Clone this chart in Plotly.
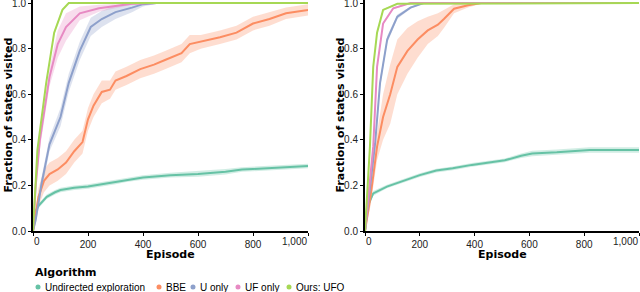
import plotly.graph_objects as go

# ---------------- data ----------------
names = ["Undirected exploration", "BBE", "U only", "UF only", "Ours: UFO"]
colors = ["#66c2a5", "#fc8d62", "#8da0cb", "#e78ac3", "#a6d854"]
bands = ["rgba(102,194,165,0.3)", "rgba(252,141,98,0.3)", "rgba(141,160,203,0.3)",
         "rgba(231,138,195,0.3)", "rgba(166,216,84,0.3)"]

# Left panel
L_und_ep = [0, 5, 20, 50, 80, 100, 150, 200, 250, 300, 340, 400, 500, 600, 700, 760, 800, 900, 1000]
L_und_v = [0, 0.08, 0.11, 0.15, 0.17, 0.18, 0.19, 0.195, 0.205, 0.215, 0.225, 0.235, 0.245, 0.25, 0.26, 0.27, 0.272, 0.277, 0.285]
L_und_e = [0, 0.01, 0.01, 0.01, 0.01, 0.01, 0.01, 0.01, 0.01, 0.01, 0.01, 0.01, 0.01, 0.012, 0.012, 0.01, 0.01, 0.01, 0.01]

L_bbe_ep = [0, 10, 20, 40, 60, 90, 120, 150, 180, 200, 220, 250, 280, 300, 340, 390, 440, 480, 540, 570, 610, 680, 740, 800, 860, 920, 1000]
L_bbe_v = [0, 0.08, 0.15, 0.22, 0.25, 0.27, 0.30, 0.35, 0.39, 0.49, 0.55, 0.61, 0.62, 0.66, 0.68, 0.71, 0.73, 0.75, 0.78, 0.82, 0.83, 0.85, 0.87, 0.91, 0.93, 0.955, 0.97]
L_bbe_e = [0, 0.02, 0.04, 0.05, 0.05, 0.05, 0.05, 0.05, 0.05, 0.05, 0.05, 0.05, 0.04, 0.04, 0.04, 0.04, 0.04, 0.04, 0.04, 0.04, 0.03, 0.03, 0.03, 0.03, 0.03, 0.025, 0.025]

L_u_ep = [0, 10, 30, 60, 100, 130, 170, 210, 250, 300, 360, 400, 450, 1000]
L_u_v = [0, 0.05, 0.2, 0.38, 0.5, 0.65, 0.79, 0.895, 0.93, 0.96, 0.98, 0.995, 1.0, 1.0]
L_u_e = [0, 0.02, 0.03, 0.03, 0.04, 0.04, 0.04, 0.04, 0.035, 0.03, 0.02, 0.01, 0.003, 0.003]

L_uf_ep = [0, 10, 25, 60, 90, 120, 170, 240, 360, 450, 1000]
L_uf_v = [0, 0.2, 0.4, 0.675, 0.82, 0.895, 0.955, 0.977, 0.997, 1.0, 1.0]
L_uf_e = [0, 0.03, 0.04, 0.04, 0.06, 0.06, 0.03, 0.015, 0.005, 0.003, 0.003]

L_ufo_ep = [0, 16, 48, 77, 107, 130, 1000]
L_ufo_v = [0, 0.355, 0.65, 0.87, 0.97, 1.0, 1.0]
L_ufo_e = [0, 0.01, 0.01, 0.01, 0.005, 0.002, 0.002]

# Right panel
R_und_ep = [0, 3, 7, 30, 80, 140, 200, 260, 320, 390, 450, 510, 570, 610, 700, 820, 1000]
R_und_v = [0, 0.06, 0.1, 0.165, 0.195, 0.22, 0.245, 0.265, 0.275, 0.29, 0.30, 0.31, 0.33, 0.34, 0.345, 0.355, 0.355]
R_und_e = [0, 0.01, 0.01, 0.01, 0.008, 0.008, 0.008, 0.008, 0.008, 0.008, 0.008, 0.008, 0.01, 0.012, 0.012, 0.012, 0.012]

R_bbe_ep = [0, 20, 44, 66, 92, 118, 155, 192, 229, 266, 288, 325, 376, 424, 1000]
R_bbe_v = [0, 0.15, 0.37, 0.5, 0.6, 0.72, 0.79, 0.84, 0.88, 0.905, 0.93, 0.975, 0.99, 1.0, 1.0]
R_bbe_e = [0, 0.04, 0.06, 0.1, 0.13, 0.12, 0.1, 0.08, 0.06, 0.05, 0.04, 0.02, 0.01, 0.003, 0.003]

R_u_ep = [0, 15, 37, 55, 81, 118, 166, 214, 1000]
R_u_v = [0, 0.15, 0.385, 0.65, 0.84, 0.94, 0.98, 1.0, 1.0]
R_u_e = [0, 0.02, 0.02, 0.02, 0.015, 0.01, 0.005, 0.002, 0.002]

R_uf_ep = [0, 12, 30, 44, 66, 103, 166, 1000]
R_uf_v = [0, 0.15, 0.37, 0.72, 0.91, 0.977, 1.0, 1.0]
R_uf_e = [0, 0.01, 0.01, 0.01, 0.008, 0.005, 0.002, 0.002]

R_ufo_ep = [0, 8, 18, 30, 44, 66, 118, 1000]
R_ufo_v = [0, 0.15, 0.37, 0.72, 0.87, 0.97, 0.997, 1.0]
R_ufo_e = [0, 0.005, 0.005, 0.005, 0.005, 0.004, 0.002, 0.002]

x_ticks = [0, 200, 400, 600, 800, 1000]
y_ticks = [0.0, 0.2, 0.4, 0.6, 0.8, 1.0]
x_title = "Episode"
y_title = "Fraction of states visited"
legend_title = "Algorithm"

left = [(L_und_ep, L_und_v, L_und_e), (L_bbe_ep, L_bbe_v, L_bbe_e), (L_u_ep, L_u_v, L_u_e),
        (L_uf_ep, L_uf_v, L_uf_e), (L_ufo_ep, L_ufo_v, L_ufo_e)]
right = [(R_und_ep, R_und_v, R_und_e), (R_bbe_ep, R_bbe_v, R_bbe_e), (R_u_ep, R_u_v, R_u_e),
         (R_uf_ep, R_uf_v, R_uf_e), (R_ufo_ep, R_ufo_v, R_ufo_e)]

fig = go.Figure()
for panel, (xa, ya) in [(left, ("x", "y")), (right, ("x2", "y2"))]:
    for i, (ep, v, e) in enumerate(panel):
        up = [min(a + b, 1.0) for a, b in zip(v, e)]
        lo = [max(a - b, 0.0) for a, b in zip(v, e)]
        fig.add_trace(go.Scatter(x=ep + ep[::-1], y=up + lo[::-1], fill="toself",
                                 fillcolor=bands[i], line=dict(width=0), mode="lines",
                                 hoverinfo="skip", showlegend=False, xaxis=xa, yaxis=ya))
    for i, (ep, v, e) in enumerate(panel):
        fig.add_trace(go.Scatter(x=ep, y=v, mode="lines", line=dict(color=colors[i], width=2),
                                 showlegend=False, xaxis=xa, yaxis=ya, name=names[i]))

# ---------------- layout ----------------
W, H = 640, 292
ML, MR, MT, MB = 33, 1, 0, 61
PW, PH = W - ML - MR, H - MT - MB


def px(xp):
    return (xp - ML) / PW


def py(yp):
    return (H - MB - yp) / PH


FONT = "Liberation Sans"
BFONT = "DejaVu Sans"
TICKF = dict(family=FONT, size=10, color="#222")
axis_common = dict(showgrid=False, zeroline=False, showline=True, linecolor="black", linewidth=2,
                   ticks="outside", ticklen=3, tickwidth=1, tickcolor="black",
                   ticklabeloverflow="allow", tickfont=TICKF)
xcommon = dict(range=[0, 1000], tickvals=x_ticks,
               ticktext=["" if t in (x_ticks[0], x_ticks[-1]) else f"{t:,}" for t in x_ticks],
               **axis_common)
ycommon = dict(range=[0, 1.0133], tickvals=y_ticks, tickformat=".1f", **axis_common)

xdoms = [[0, 275 / PW], [(365 - ML) / PW, 1]]
fig.update_layout(
    width=W, height=H, margin=dict(l=ML, r=MR, t=MT, b=MB, autoexpand=False),
    paper_bgcolor="white", plot_bgcolor="white", showlegend=False,
    font=dict(family=FONT, size=10, color="black"),
    xaxis=dict(domain=xdoms[0], anchor="y", **xcommon),
    yaxis=dict(domain=[0, 1], anchor="x", **ycommon),
    xaxis2=dict(domain=xdoms[1], anchor="y2", **xcommon),
    yaxis2=dict(domain=[0, 1], anchor="x2", **ycommon),
)

for k, xr in enumerate(("x", "x2")):
    # flush first/last x tick labels
    fig.add_annotation(x=x_ticks[0], y=0, xref=xr, yref="paper", text=f"{x_ticks[0]:,}", showarrow=False,
                       xanchor="left", yanchor="top", yshift=-3, xshift=-1, font=TICKF)
    fig.add_annotation(x=x_ticks[-1], y=0, xref=xr, yref="paper", text=f"{x_ticks[-1]:,}", showarrow=False,
                       xanchor="right", yanchor="top", yshift=-3, xshift=1, font=TICKF)
    # axis titles
    d0, d1 = xdoms[k]
    fig.add_annotation(x=(d0 + d1) / 2, y=py(254), xref="paper", yref="paper", text=f"<b>{x_title}</b>",
                       showarrow=False, xanchor="center", yanchor="middle",
                       font=dict(family=BFONT, size=11, color="black"))
    fig.add_annotation(x=d0 - 25 / PW, y=0.5, xref="paper", yref="paper", text=f"<b>{y_title}</b>",
                       textangle=-90, showarrow=False, xanchor="center", yanchor="middle",
                       font=dict(family=BFONT, size=11, color="black"))

# legend (drawn compactly like the original)
fig.add_annotation(x=px(33), y=py(272), xref="paper", yref="paper", text=f"<b>{legend_title}</b>",
                   showarrow=False, xanchor="left", yanchor="middle",
                   font=dict(family=BFONT, size=11, color="black"))
dot_x = [38, 159, 193, 238, 289]
for i, nm in enumerate(names):
    fig.add_shape(type="circle", xref="paper", yref="paper",
                  x0=px(dot_x[i] - 2.5), x1=px(dot_x[i] + 2.5), y0=py(287 + 2.5), y1=py(287 - 2.5),
                  fillcolor=colors[i], line=dict(width=0))
    fig.add_annotation(x=px(dot_x[i] + 5), y=py(287), xref="paper", yref="paper", text=nm,
                       showarrow=False, xanchor="left", yanchor="middle",
                       font=dict(family=FONT, size=10, color="black"))

fig.write_html("out.html", config={"displayModeBar": False},
               post_script="document.body.style.margin='0';document.body.style.overflow='hidden';")
